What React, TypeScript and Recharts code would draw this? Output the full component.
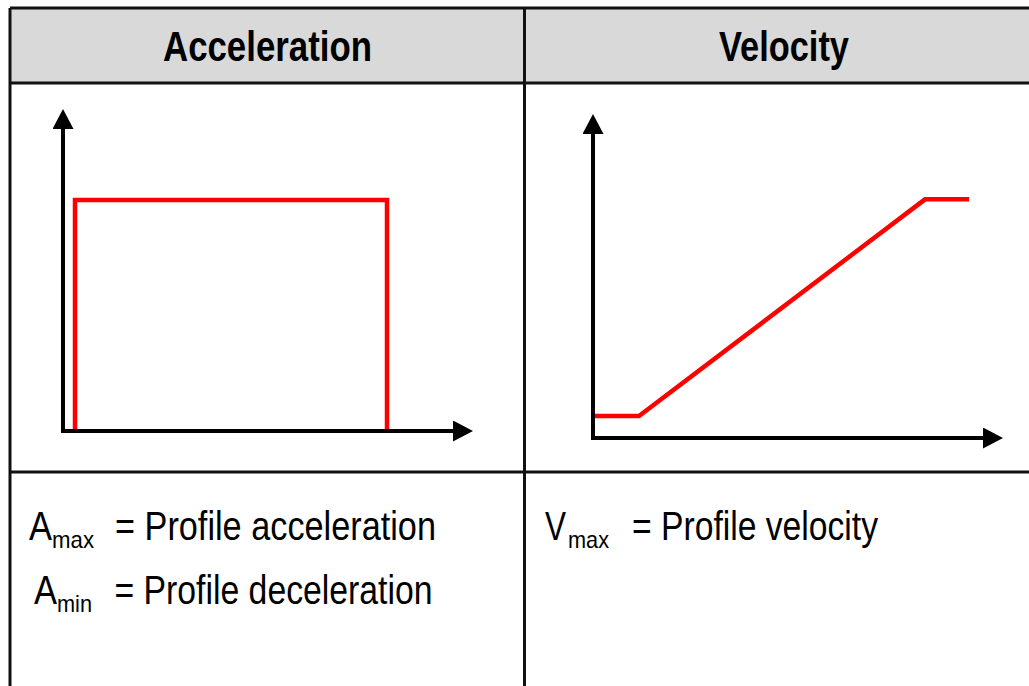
import { LineChart, Line, XAxis, YAxis } from "recharts";

const columnTitles = ["Acceleration", "Velocity"];

// acceleration profile: jump up, hold, drop back to zero
const accelTime = [3, 3, 81, 81];
const accelValue = [0, 74, 74, 0];

// velocity profile: hold, ramp up, hold
const velTime = [0.5, 11.5, 83, 94];
const velValue = [7, 7, 76, 76];

const accelSymbols = ["A", "A"];
const accelSubs = ["max", "min"];
const accelTexts = ["= Profile acceleration", "= Profile deceleration"];

const velSymbols = ["V"];
const velSubs = ["max"];
const velTexts = ["= Profile velocity"];

const accelData = accelTime.map((t, i) => ({ t, v: accelValue[i] }));
const velData = velTime.map((t, i) => ({ t, v: velValue[i] }));

const ARROW = "axis-arrow";
const bodyFont = "'Liberation Sans', Arial, sans-serif";
const headFont = "'Liberation Sans Narrow', 'Liberation Sans', Arial, sans-serif";

interface ChartProps {
  data: { t: number; v: number }[];
  margin: { top: number; right: number; bottom: number; left: number };
}

function ProfileChart({ data, margin }: ChartProps) {
  const axisLine = {
    stroke: "#000",
    strokeWidth: 4,
    strokeLinecap: "square" as const,
  };
  // axes need a size of at least 1px or recharts skips them
  return (
    <LineChart width={450} height={360} data={data} margin={margin}>
      <XAxis
        type="number"
        dataKey="t"
        domain={[0, 100]}
        height={1}
        tick={false}
        tickLine={false}
        axisLine={{ ...axisLine, markerEnd: `url(#${ARROW})` }}
      />
      <YAxis
        type="number"
        domain={[0, 100]}
        width={1}
        tick={false}
        tickLine={false}
        axisLine={{ ...axisLine, markerStart: `url(#${ARROW})` }}
      />
      <Line
        type="linear"
        dataKey="v"
        stroke="#ff0000"
        strokeWidth={4.5}
        dot={false}
        activeDot={false}
        isAnimationActive={false}
      />
    </LineChart>
  );
}

export default function App() {
  const line = "#111";
  return (
    <div
      style={{
        position: "absolute",
        left: 0,
        top: 0,
        width: 1029,
        height: 686,
        overflow: "hidden",
        background: "#fff",
      }}
    >
      <svg width={0} height={0} style={{ position: "absolute" }}>
        <defs>
          <marker
            id={ARROW}
            viewBox="0 0 20 21"
            refX={10}
            refY={10.5}
            markerWidth={20}
            markerHeight={21}
            markerUnits="userSpaceOnUse"
            orient="auto-start-reverse"
          >
            <path d="M0,0 L20,10.5 L0,21 Z" fill="#000" />
          </marker>
        </defs>
      </svg>

      {/* table frame, headers and legend text */}
      <svg width={1029} height={686} style={{ position: "absolute", left: 0, top: 0 }}>
        <rect x={10} y={8} width={1040} height={75} fill="#d9d9d9" />
        <line x1={10} y1={8} x2={1029} y2={8} stroke={line} strokeWidth={3} />
        <line x1={10} y1={83} x2={1029} y2={83} stroke={line} strokeWidth={3} />
        <line x1={10} y1={472} x2={1029} y2={472} stroke={line} strokeWidth={3} />
        <line x1={10} y1={8} x2={10} y2={686} stroke={line} strokeWidth={3} />
        <line x1={524.5} y1={8} x2={524.5} y2={686} stroke={line} strokeWidth={3} />

        <text x={163} y={61} fontFamily={headFont} fontWeight={700} fontSize={42}
          textLength={209} lengthAdjust="spacingAndGlyphs" fill="#000">
          {columnTitles[0]}
        </text>
        <text x={719} y={60.5} fontFamily={headFont} fontWeight={700} fontSize={42}
          textLength={130} lengthAdjust="spacingAndGlyphs" fill="#000">
          {columnTitles[1]}
        </text>

        {accelSymbols.map((s, i) => {
          const base = i === 0 ? 539.5 : 603.5;
          const sx = i === 0 ? 29 : 34;
          return (
            <g key={i} fontFamily={bodyFont} fill="#000">
              <text x={sx} y={base} fontSize={40} textLength={23} lengthAdjust="spacingAndGlyphs">{s}</text>
              <text x={sx + 23} y={base + 8} fontSize={24}
                textLength={i === 0 ? 42 : 35} lengthAdjust="spacingAndGlyphs">{accelSubs[i]}</text>
              <text x={i === 0 ? 115 : 114.5} y={base} fontSize={40}
                textLength={i === 0 ? 321 : 318} lengthAdjust="spacingAndGlyphs">{accelTexts[i]}</text>
            </g>
          );
        })}

        {velSymbols.map((s, i) => (
          <g key={i} fontFamily={bodyFont} fill="#000">
            <text x={545} y={539.5} fontSize={40} textLength={21} lengthAdjust="spacingAndGlyphs">{s}</text>
            <text x={568} y={547.5} fontSize={24} textLength={41} lengthAdjust="spacingAndGlyphs">{velSubs[i]}</text>
            <text x={632} y={539.5} fontSize={40} textLength={246} lengthAdjust="spacingAndGlyphs">{velTexts[i]}</text>
          </g>
        ))}
      </svg>

      <div style={{ position: "absolute", left: 40, top: 95 }}>
        <ProfileChart data={accelData} margin={{ top: 24, right: 27, bottom: 23, left: 22 }} />
      </div>
      <div style={{ position: "absolute", left: 570, top: 95 }}>
        <ProfileChart data={velData} margin={{ top: 29, right: 27, bottom: 16, left: 22 }} />
      </div>
    </div>
  );
}
